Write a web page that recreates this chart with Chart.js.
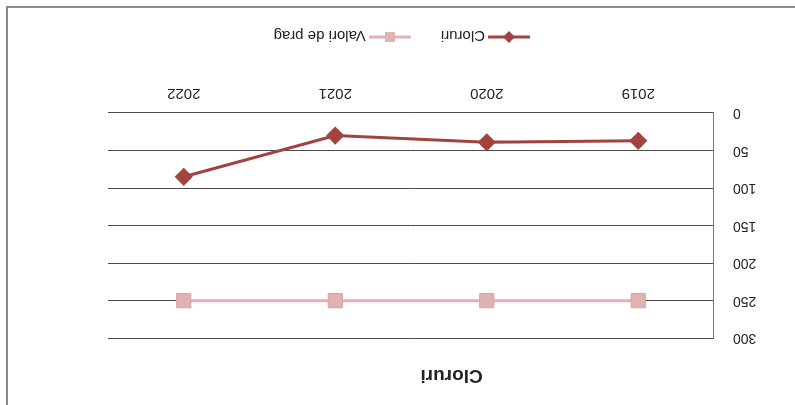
<!DOCTYPE html>
<html>
<head>
<meta charset="utf-8">
<script src="https://cdn.jsdelivr.net/npm/chart.js@4"></script>
<style>
  html, body { margin: 0; padding: 0; background: #fff; overflow: hidden; }
  /* the scanned page is upside down, so the whole chart is turned round */
  #wrap { position: relative; width: 795px; height: 405px; transform: rotate(180deg); }
  #frame { position: absolute; left: 0; top: 0; width: 787px; height: 397px;
           border-right: 2px solid #8a8a8a; border-bottom: 2px solid #8a8a8a; }
  canvas#chart { position: absolute; left: 0; top: 0; }
  #legend { position: absolute; left: 265px; top: 359px; height: 18px; display: flex; align-items: center;
            font: 15px 'Liberation Sans', sans-serif; color: #222; }
  #legend .item { display: flex; align-items: center; margin-right: 30px; }
  #legend canvas { margin-right: 3px; }
</style>
</head>
<body>
<div id="wrap">
  <div id="frame"></div>
  <canvas id="chart" width="795" height="405"></canvas>
  <div id="legend"></div>
</div>
<script>
// values
const years = ['2019', '2020', '2021', '2022'];
const chloride = [37, 39, 30, 85];
const threshold = [250, 250, 250, 250];
const yTicks = [0, 50, 100, 150, 200, 250, 300];

const darkRed = '#a2433f';
const pink = '#e0b2b1';

const ctx = document.getElementById('chart').getContext('2d');
const chart = new Chart(ctx, {
    type: 'line',
    data: {
        labels: years,
        datasets: [{
            label: 'Cloruri',
            data: chloride,
            borderColor: darkRed,
            backgroundColor: darkRed,
            borderWidth: 3,
            pointStyle: 'rectRot',
            pointRadius: 7,
            tension: 0
        }, {
            label: 'Valori de prag',
            data: threshold,
            borderColor: pink,
            backgroundColor: pink,
            borderWidth: 3,
            pointStyle: 'rect',
            pointRadius: 10,
            pointBorderColor: '#d6a3a2',
            pointBorderWidth: 1,
            tension: 0
        }]
    },
    options: {
        responsive: false,
        animation: false,
        layout: { padding: { left: 0, right: 108, top: 0, bottom: 53 } },
        plugins: {
            title: {
                display: true,
                text: 'Cloruri',
                color: '#222',
                font: { family: 'Liberation Sans', size: 19, weight: 'bold' },
                padding: { top: 18, bottom: 26 }
            },
            legend: { display: false },
            tooltip: { enabled: false }
        },
        scales: {
            x: {
                offset: true,
                grid: { display: false },
                border: { display: false },
                ticks: { color: '#222', padding: 3, font: { family: 'Liberation Sans', size: 15 } },
                afterFit: (s) => { s.height = 60; }
            },
            y: {
                min: 0,
                max: 300,
                afterBuildTicks: (s) => { s.ticks = yTicks.map(v => ({ value: v })); },
                grid: { color: '#4a4a4a', lineWidth: 1, drawTicks: false },
                border: { display: true, color: '#777', width: 1 },
                ticks: { color: '#222', padding: 19, font: { family: 'Liberation Sans', size: 14 } },
                afterFit: (s) => { s.width = 81; }
            }
        }
    }
});

// Excel style legend: a short line with the marker in the middle, built from the datasets
const legendEl = document.getElementById('legend');
chart.data.datasets.forEach((ds, i) => {
    const item = document.createElement('div');
    item.className = 'item';
    const glyph = document.createElement('canvas');
    glyph.width = 42; glyph.height = 14;
    const g = glyph.getContext('2d');
    g.strokeStyle = ds.borderColor; g.lineWidth = 3;
    g.beginPath(); g.moveTo(0, 7); g.lineTo(42, 7); g.stroke();
    g.fillStyle = ds.backgroundColor;
    g.beginPath();
    if (ds.pointStyle === 'rectRot') {
        g.moveTo(21, 1); g.lineTo(27, 7); g.lineTo(21, 13); g.lineTo(15, 7);
    } else {
        g.rect(16, 2, 10, 10);
    }
    g.closePath(); g.fill();
    const label = document.createElement('span');
    label.textContent = ds.label;
    item.appendChild(glyph);
    item.appendChild(label);
    legendEl.appendChild(item);
});
</script>
</body>
</html>
